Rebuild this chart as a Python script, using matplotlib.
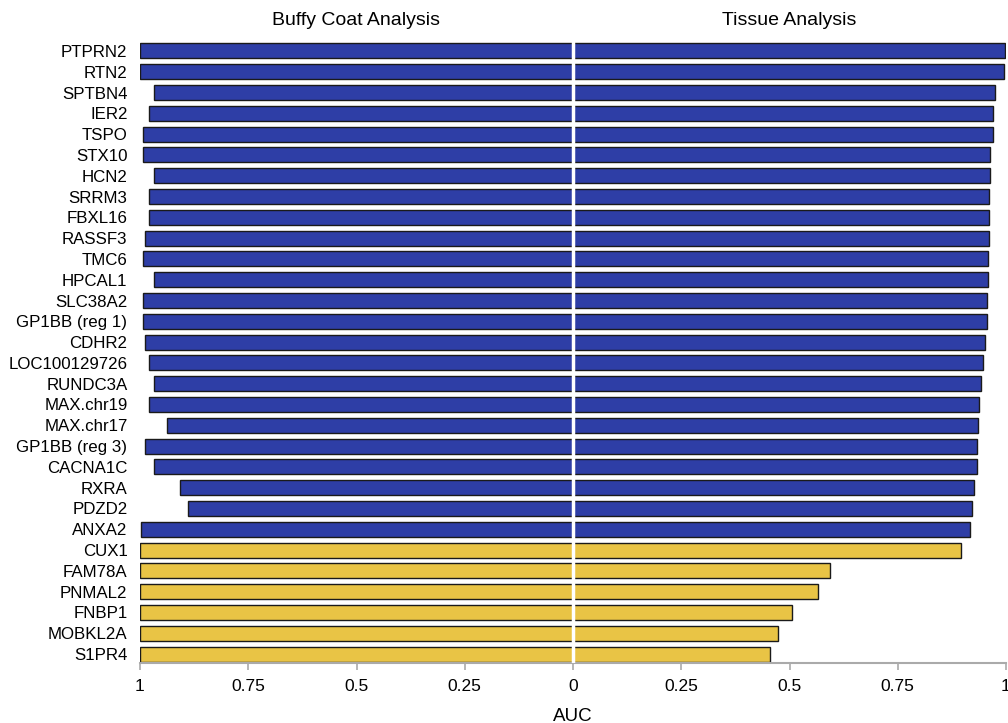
import matplotlib
matplotlib.use("Agg")
import matplotlib.pyplot as plt
import numpy as np

plt.rcParams['font.family'] = ['Liberation Sans', 'DejaVu Sans']

genes = ["PTPRN2", "RTN2", "SPTBN4", "IER2", "TSPO", "STX10", "HCN2", "SRRM3",
         "FBXL16", "RASSF3", "TMC6", "HPCAL1", "SLC38A2", "GP1BB (reg 1)", "CDHR2",
         "LOC100129726", "RUNDC3A", "MAX.chr19", "MAX.chr17", "GP1BB (reg 3)",
         "CACNA1C", "RXRA", "PDZD2", "ANXA2", "CUX1", "FAM78A", "PNMAL2", "FNBP1",
         "MOBKL2A", "S1PR4"]
buffy_auc = [1.0, 1.0, 0.968, 0.979, 0.992, 0.992, 0.968, 0.979, 0.979, 0.988,
             0.992, 0.968, 0.992, 0.992, 0.988, 0.979, 0.968, 0.979, 0.938, 0.988,
             0.968, 0.908, 0.889, 0.998, 1.0, 1.0, 1.0, 1.0, 1.0, 1.0]
tissue_auc = [0.998, 0.996, 0.975, 0.971, 0.970, 0.964, 0.963, 0.961, 0.961, 0.960,
              0.958, 0.958, 0.957, 0.955, 0.951, 0.946, 0.943, 0.938, 0.936, 0.933,
              0.932, 0.927, 0.921, 0.916, 0.897, 0.594, 0.565, 0.505, 0.474, 0.454]
group = ["sig"] * 24 + ["other"] * 6
xtick_vals = [-1, -0.75, -0.5, -0.25, 0, 0.25, 0.5, 0.75, 1]
xtick_labels = ["1", "0.75", "0.5", "0.25", "0", "0.25", "0.5", "0.75", "1"]

color_map = {"sig": "#2E3EA6", "other": "#E9C445"}
colors = [color_map[g] for g in group]

fig = plt.figure(figsize=(10.08, 7.23), dpi=100)
ax = fig.add_axes([140/1008, 1 - 663.4/723, (1006-140)/1008, (663.4-38.5)/723])

y = np.arange(len(genes))
h = 0.72
ax.barh(y, -np.array(buffy_auc), height=h, color=colors, edgecolor="#1a1a1a", linewidth=1.0)
ax.barh(y, tissue_auc, height=h, color=colors, edgecolor="#1a1a1a", linewidth=1.0)
ax.axvline(0, color="white", linewidth=2.5, zorder=5)

ax.set_xlim(-1, 1)
ax.set_ylim(len(genes) - 1 + 0.45, -0.6)
ax.set_yticks(y)
ax.set_yticklabels(genes, fontsize=12.2)
ax.tick_params(axis="y", length=0, pad=9)
ax.set_xticks(xtick_vals)
ax.set_xticklabels(xtick_labels, fontsize=12.5)
ax.tick_params(axis="x", length=5, color="#aaaaaa", width=1.2, pad=6)

for s in ["top", "right", "left"]:
    ax.spines[s].set_visible(False)
ax.spines["bottom"].set_color("#aaaaaa")
ax.spines["bottom"].set_linewidth(1.5)

ax.set_xlabel("AUC", fontsize=13.5, labelpad=10)
ax.text(0.25, 1.0296, "Buffy Coat Analysis", transform=ax.transAxes, ha="center",
        va="center", fontsize=14)
ax.text(0.75, 1.0296, "Tissue Analysis", transform=ax.transAxes, ha="center",
        va="center", fontsize=14)

fig.savefig("out.png", dpi=100)
